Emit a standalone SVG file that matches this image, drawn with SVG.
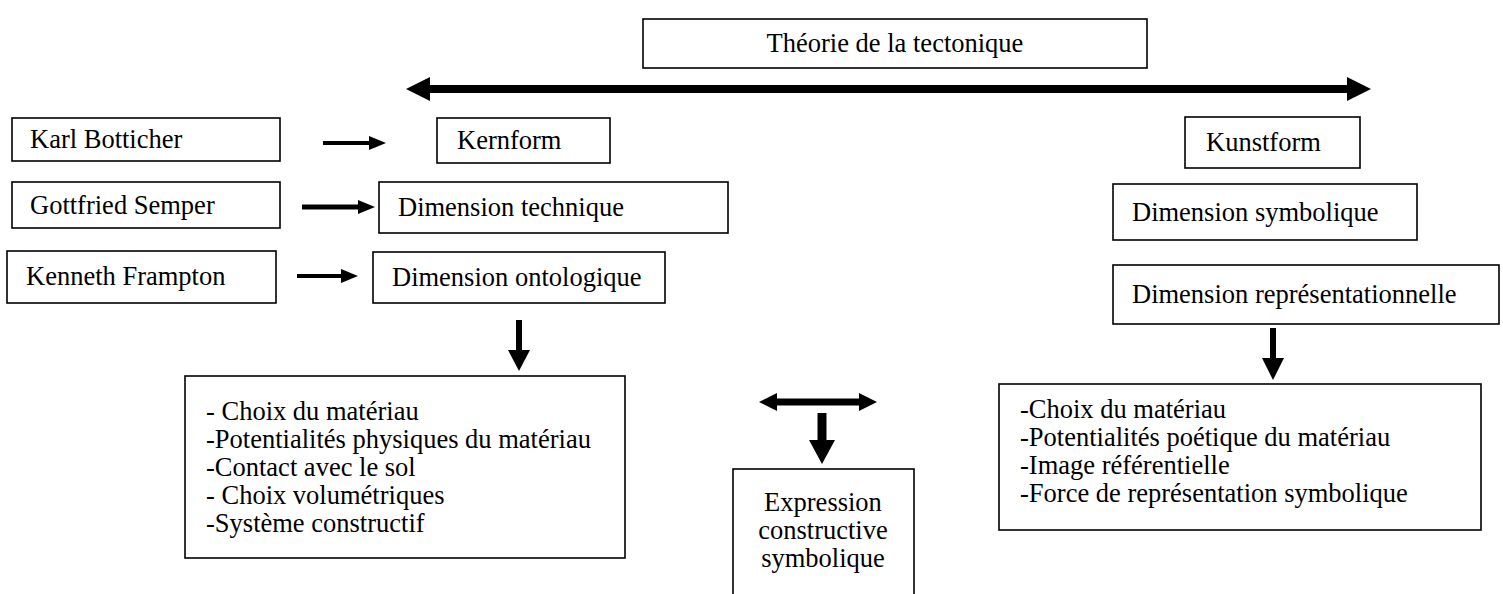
<svg xmlns="http://www.w3.org/2000/svg" width="1503" height="594" viewBox="0 0 1503 594">
<style>
rect{fill:#fff;stroke:#000;stroke-width:1.6}
text{font-family:'Liberation Serif','Times New Roman',serif;font-size:26.5px;fill:#000}
.c{text-anchor:middle}
.shaft{stroke:#000;fill:none}
.head{fill:#000;stroke:none}
</style>
<rect x="0" y="0" width="1503" height="594" style="fill:#fff;stroke:none"/>
<g id="connectors">
  <path class="shaft" d="M425 89 H1352" stroke-width="8"/>
  <path class="head" d="M406 89 L430 77 L430 101 Z"/>
  <path class="head" d="M1371 89 L1347 77 L1347 101 Z"/>
  <path class="shaft" d="M323 143 H372" stroke-width="4"/>
  <path class="head" d="M386 143 L369 136 L369 150 Z"/>
  <path class="shaft" d="M302 207 H360" stroke-width="5"/>
  <path class="head" d="M375 207 L358 200 L358 214 Z"/>
  <path class="shaft" d="M297 276 H344" stroke-width="4"/>
  <path class="head" d="M358 276 L341 269 L341 283 Z"/>
  <path class="shaft" d="M519 320 V352" stroke-width="6"/>
  <path class="head" d="M519 371 L508 350 L530 350 Z"/>
  <path class="shaft" d="M1273 328 V360" stroke-width="6"/>
  <path class="head" d="M1273 380 L1262 358 L1284 358 Z"/>
  <path class="shaft" d="M772 402 H864" stroke-width="7"/>
  <path class="head" d="M759 402 L777 393 L777 411 Z"/>
  <path class="head" d="M877 402 L859 393 L859 411 Z"/>
  <path class="shaft" d="M822 413 V443" stroke-width="9"/>
  <path class="head" d="M822 464 L809 440 L835 440 Z"/>
</g>
<g id="n-theorie"><rect x="643" y="19" width="504" height="49"/><text class="c" x="895" y="52">Théorie de la tectonique</text></g>
<g id="n-botticher"><rect x="12" y="118" width="268" height="43"/><text x="30" y="148">Karl Botticher</text></g>
<g id="n-kernform"><rect x="437" y="118" width="173" height="45"/><text x="457" y="149">Kernform</text></g>
<g id="n-kunstform"><rect x="1185" y="117" width="175" height="51"/><text x="1206" y="151">Kunstform</text></g>
<g id="n-semper"><rect x="12" y="182" width="268" height="46"/><text x="30" y="214">Gottfried Semper</text></g>
<g id="n-technique"><rect x="379" y="182" width="349" height="51"/><text x="398" y="216">Dimension technique</text></g>
<g id="n-symbolique"><rect x="1113" y="184" width="304" height="56"/><text x="1132" y="221">Dimension symbolique</text></g>
<g id="n-frampton"><rect x="7" y="251" width="269" height="52"/><text x="26" y="285">Kenneth Frampton</text></g>
<g id="n-ontologique"><rect x="373" y="252" width="292" height="51"/><text x="392" y="286">Dimension ontologique</text></g>
<g id="n-representationnelle"><rect x="1113" y="265" width="386" height="59"/><text x="1132" y="303">Dimension représentationnelle</text></g>
<g id="n-liste-gauche"><rect x="185" y="376" width="440" height="182"/>
  <text x="206" y="420">- Choix du matériau</text>
  <text x="206" y="448">-Potentialités physiques du matériau</text>
  <text x="206" y="476">-Contact avec le sol</text>
  <text x="206" y="504">- Choix volumétriques</text>
  <text x="206" y="532">-Système constructif</text>
</g>
<g id="n-expression"><rect x="733" y="469" width="181" height="140"/>
  <text class="c" x="823" y="511">Expression</text>
  <text class="c" x="823" y="539">constructive</text>
  <text class="c" x="823" y="567">symbolique</text>
</g>
<g id="n-liste-droite"><rect x="999" y="384" width="482" height="146"/>
  <text x="1020" y="418">-Choix du matériau</text>
  <text x="1020" y="446">-Potentialités poétique du matériau</text>
  <text x="1020" y="474">-Image référentielle</text>
  <text x="1020" y="502">-Force de représentation symbolique</text>
</g>
</svg>
